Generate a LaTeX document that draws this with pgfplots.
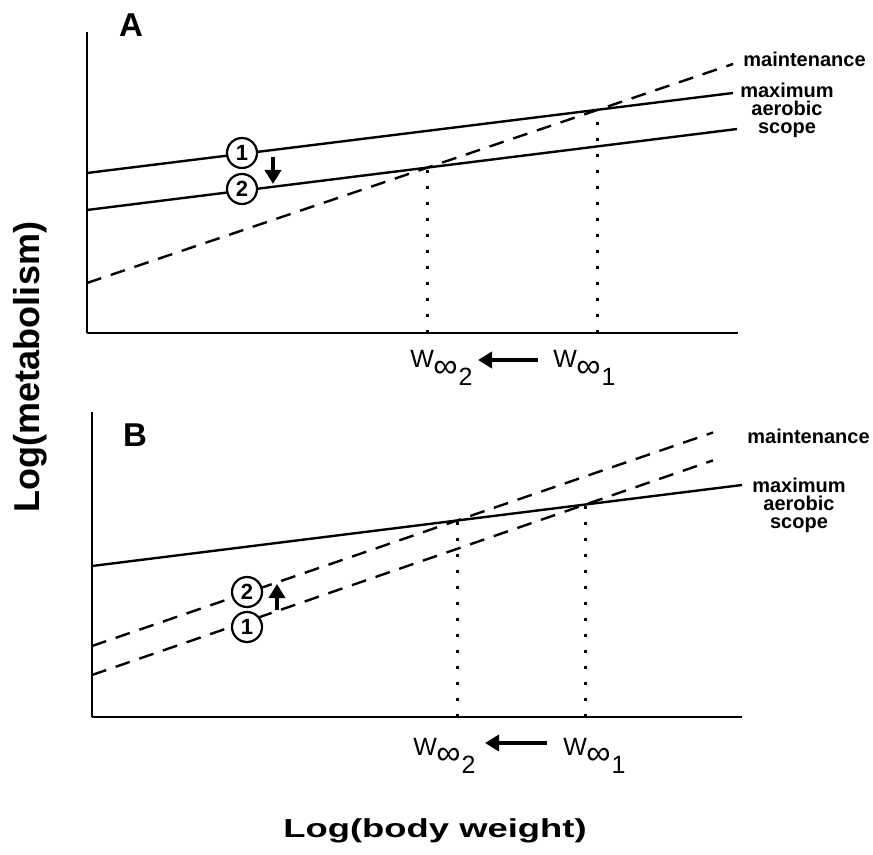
\documentclass[border=0pt]{standalone}
\usepackage{fontspec}
\setmainfont{Liberation Sans}
\usepackage{pgfplots}
\pgfplotsset{compat=1.18}
\usetikzlibrary{arrows.meta}

\newcommand{\Winf}[1]{W\kern-0.03em\raisebox{-4.6pt}{\fontsize{17pt}{17pt}\selectfont ∞}\kern0.05em\raisebox{-9pt}{#1}}

\pgfplotsset{
  panel/.style={x=0.5pt,y=0.5pt,xmin=0,ymin=0,axis lines=left,
    axis line style={-,line width=1.4pt},ticks=none,clip=false},
  sol/.style={black,line width=1.2pt,no marks},
  dsh/.style={black,line width=1.2pt,no marks,dash pattern=on 7.5pt off 5pt},
  dot/.style={black,line width=1.5pt,no marks,dash pattern=on 1.5pt off 6.5pt},
}
\tikzset{
  num/.style={circle,draw,line width=1.1pt,fill=white,inner sep=0pt,minimum size=15pt,font=\bfseries\fontsize{11}{11}\selectfont},
  lbl/.style={inner sep=0pt,font=\bfseries\fontsize{10}{10}\selectfont},
  wl/.style={inner sep=0pt,anchor=base west,font=\fontsize{12.5}{12.5}\selectfont},
  arr/.style={line width=1.8pt,-{Triangle[width=8pt,length=7pt]}},
}

\begin{document}
\begin{tikzpicture}
\path[use as bounding box] (0,0) rectangle (436.5pt,-427.5pt);

% ---------------- Panel A ----------------
\begin{axis}[panel,at={(43.5pt,-166.5pt)},anchor=south west,xmax=651,ymax=301]
\addplot[sol] coordinates {(0,160) (646,240)};
\addplot[sol] coordinates {(0,123) (650,204)};
\addplot[dsh] coordinates {(0,50) (646,269)};
\addplot[dot] coordinates {(340,0) (340,165)};
\addplot[dot] coordinates {(510,0) (510,223)};
\node[num] at (axis cs:155,180) {1};
\node[num] at (axis cs:155,144) {2};
\draw[arr] (axis cs:186,176) -- (axis cs:186,149);
\node[inner sep=0pt,font=\bfseries\fontsize{16.5}{16.5}\selectfont] at (axis cs:44,308) {A};
\node[lbl,anchor=base west] at (axis cs:656,266) {maintenance};
\node[lbl,anchor=base] at (axis cs:700,235) {maximum};
\node[lbl,anchor=base] at (axis cs:700,217) {aerobic};
\node[lbl,anchor=base] at (axis cs:700,199) {scope};
\node[wl] at (axis cs:323,-35) {\Winf{2}};
\node[wl] at (axis cs:466,-35) {\Winf{1}};
\draw[arr] (axis cs:451,-27) -- (axis cs:391,-27);
\end{axis}

% ---------------- Panel B ----------------
\begin{axis}[panel,at={(46pt,-358.5pt)},anchor=south west,xmax=650,ymax=305]
\addplot[sol] coordinates {(0,151) (650,232)};
\addplot[dsh] coordinates {(0,71) (621,284.5)};
\addplot[dsh] coordinates {(0,42) (621,256.6)};
\addplot[dot] coordinates {(365,0) (365,196)};
\addplot[dot] coordinates {(493,0) (493,212)};
\node[num] at (axis cs:155,125) {2};
\node[num] at (axis cs:155,90) {1};
\draw[arr] (axis cs:185,107) -- (axis cs:185,133);
\node[inner sep=0pt,font=\bfseries\fontsize{16.5}{16.5}\selectfont] at (axis cs:43,282) {B};
\node[lbl,anchor=base west] at (axis cs:655,274) {maintenance};
\node[lbl,anchor=base] at (axis cs:707,225) {maximum};
\node[lbl,anchor=base] at (axis cs:707,207) {aerobic};
\node[lbl,anchor=base] at (axis cs:707,189) {scope};
\node[wl] at (axis cs:321,-38) {\Winf{2}};
\node[wl] at (axis cs:471,-38) {\Winf{1}};
\draw[arr] (axis cs:455,-26) -- (axis cs:393,-26);
\end{axis}

% axis titles
\node[rotate=90,inner sep=0pt,font=\bfseries\fontsize{18}{18}\selectfont] at (15pt,-183.5pt) {Log(metabolism)};
\node[inner sep=0pt,xscale=1.4,font=\bfseries\fontsize{13}{13}\selectfont] at (217.5pt,-415.5pt) {Log(body weight)};
\end{tikzpicture}
\end{document}
